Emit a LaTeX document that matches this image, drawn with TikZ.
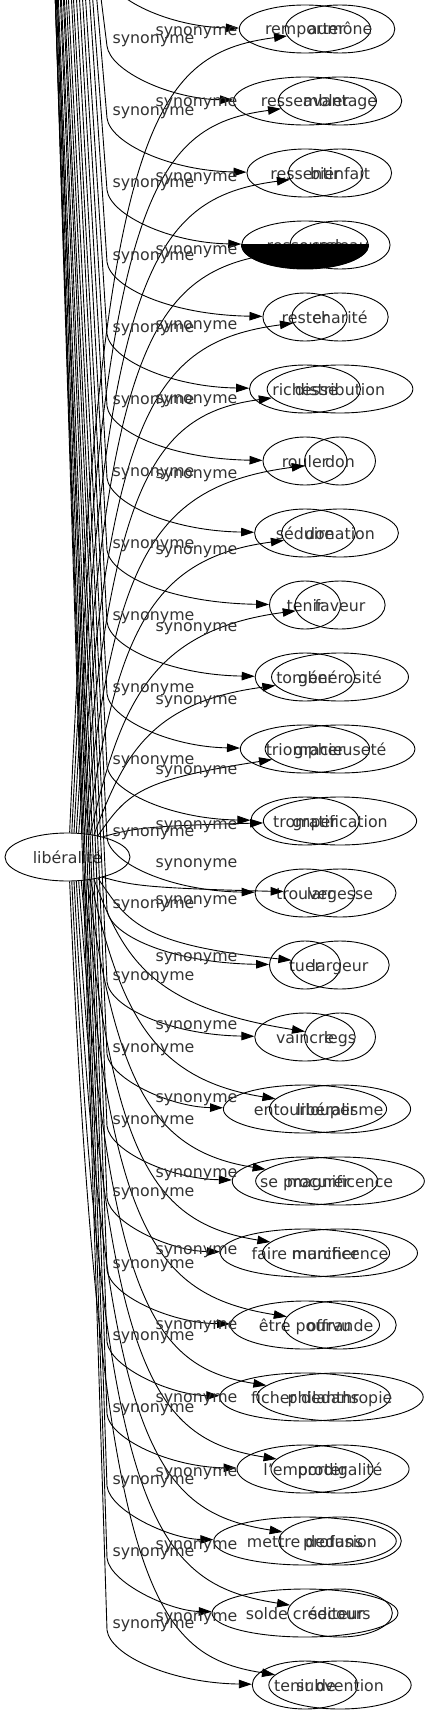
\documentclass[tikz,border=0pt]{standalone}
\usepackage{fontspec}
\setmainfont{DejaVu Sans}
\usepackage{tikz}
\usetikzlibrary{arrows.meta,shapes.geometric}

\begin{document}
\begin{tikzpicture}[x=1pt,y=-1pt,
  synnode/.style={ellipse,draw=black,line width=0.9pt,inner xsep=6.5pt,inner ysep=0pt,minimum width=71pt,minimum height=48pt,text height=12pt,text depth=0pt,text=black!80,font=\fontsize{15.8}{19}\selectfont},
  synlbl/.style={inner sep=0pt,anchor=base,text=black!80,font=\fontsize{15.8}{19}\selectfont},
  synarr/.style={draw=black,line width=0.9pt,-{Triangle[length=13pt,width=8.5pt]}}]
\path[use as bounding box] (0,0) rectangle (428,1715);
\path[fill=white,draw=none] (0,0) rectangle (428,1715);
% centre
\node[synnode,minimum width=125pt] (liberalite) at (67.5,857) {libéralité};
% left column of words
\node[synnode] (remporter) at (305,29) {remporter};
\node[synnode] (ressembler) at (305,101) {ressembler};
\node[synnode] (ressentir) at (305,173) {ressentir};
\node[synnode] (ressource) at (305,245) {ressource};
\node[synnode] (rester) at (305,317) {rester};
\node[synnode] (richesse) at (305,389) {richesse};
\node[synnode] (rouler) at (305,461) {rouler};
\node[synnode] (seduire) at (305,533) {séduire};
\node[synnode] (tenir) at (305,605) {tenir};
\node[synnode] (tomber) at (305,677) {tomber};
\node[synnode] (triompher) at (305,749) {triompher};
\node[synnode] (tromper) at (305,821) {tromper};
\node[synnode] (trouver) at (305,893) {trouver};
\node[synnode] (tuer) at (305,965) {tuer};
\node[synnode] (vaincre) at (305,1037) {vaincre};
\node[synnode] (entourlouper) at (305,1109) {entourlouper};
\node[synnode] (seprocurer) at (305,1181) {se procurer};
\node[synnode] (fairemarcher) at (305,1253) {faire marcher};
\node[synnode] (etrepourvu) at (305,1325) {être pourvu};
\node[synnode] (ficherdedans) at (305,1397) {ficher dedans};
\node[synnode] (lemporter) at (305,1469) {l'emporter};
\node[synnode] (mettrededans) at (305,1541) {mettre dedans};
\node[synnode] (soldecrediteur) at (305,1613) {solde créditeur};
\node[synnode] (tenirde) at (305,1685) {tenir de};
% right column of words
\node[synnode] (aumone) at (340,29) {aumône};
\node[synnode] (avantage) at (340,101) {avantage};
\node[synnode] (bienfait) at (340,173) {bienfait};
\node[synnode] (cadeau) at (340,245) {cadeau};
\node[synnode] (charite) at (340,317) {charité};
\node[synnode] (distribution) at (340,389) {distribution};
\node[synnode] (don) at (340,461) {don};
\node[synnode] (donation) at (340,533) {donation};
\node[synnode] (faveur) at (340,605) {faveur};
\node[synnode] (generosite) at (340,677) {générosité};
\node[synnode] (gracieusete) at (340,749) {gracieuseté};
\node[synnode] (gratification) at (340,821) {gratification};
\node[synnode] (largesse) at (340,893) {largesse};
\node[synnode] (largeur) at (340,965) {largeur};
\node[synnode] (legs) at (340,1037) {legs};
\node[synnode] (liberalisme) at (340,1109) {libéralisme};
\node[synnode] (magnificence) at (340,1181) {magnificence};
\node[synnode] (munificence) at (340,1253) {munificence};
\node[synnode] (offrande) at (340,1325) {offrande};
\node[synnode] (philanthropie) at (340,1397) {philanthropie};
\node[synnode] (prodigalite) at (340,1469) {prodigalité};
\node[synnode] (profusion) at (340,1541) {profusion};
\node[synnode] (secours) at (340,1613) {secours};
\node[synnode] (subvention) at (340,1685) {subvention};
% edges coming in from above the frame
\coordinate (bt-1) at (104,-80);
\coordinate (bt-2) at (100,-10);
\coordinate (bt-3) at (96,-10);
\coordinate (bt-4) at (92,-10);
\coordinate (bt-5) at (89,-10);
\coordinate (bt-6) at (85,-10);
\coordinate (bt-7) at (82,-10);
\coordinate (bt-8) at (79,-10);
\coordinate (bt-9) at (76,-10);
\coordinate (bt-10) at (73,-10);
\coordinate (bt-11) at (71,-10);
\coordinate (bt-12) at (68,-10);
\coordinate (bt-13) at (66,-10);
\coordinate (bt-14) at (64,-10);
\coordinate (bt-15) at (63,-10);
\coordinate (bt-16) at (61,-10);
\coordinate (bt-17) at (60,-10);
\coordinate (bt-18) at (58,-10);
\coordinate (bt-19) at (57,-10);
\coordinate (bt-20) at (57,-10);
\coordinate (bt-21) at (56,-10);
\coordinate (bt-22) at (55,-10);
\coordinate (bt-23) at (55,-10);
\coordinate (bt-24) at (55,-10);
\draw[synarr] (bt-1) -- (107,-26) .. controls (110,-1) and (170,27) .. (remporter);
\draw[synarr] (bt-2) -- (107,46) .. controls (110,71) and (170,99) .. (ressembler);
\draw[synarr] (bt-3) -- (107,118) .. controls (110,143) and (170,171) .. (ressentir);
\draw[synarr] (bt-4) -- (107,190) .. controls (110,215) and (170,243) .. (ressource);
\draw[synarr] (bt-5) -- (107,262) .. controls (110,287) and (170,315) .. (rester);
\draw[synarr] (bt-6) -- (107,334) .. controls (110,359) and (170,387) .. (richesse);
\draw[synarr] (bt-7) -- (107,406) .. controls (110,431) and (170,459) .. (rouler);
\draw[synarr] (bt-8) -- (107,478) .. controls (110,503) and (170,531) .. (seduire);
\draw[synarr] (bt-9) -- (107,550) .. controls (110,575) and (170,603) .. (tenir);
\draw[synarr] (bt-10) -- (107,622) .. controls (110,647) and (170,675) .. (tomber);
\draw[synarr] (bt-11) -- (107,694) .. controls (110,719) and (170,747) .. (triompher);
\draw[synarr] (bt-12) -- (107,766) .. controls (110,791) and (170,819) .. (tromper);
\draw[synarr] (bt-13) -- (107,838) .. controls (110,863) and (170,891) .. (trouver);
\draw[synarr] (bt-14) -- (107,910) .. controls (110,935) and (170,963) .. (tuer);
\draw[synarr] (bt-15) -- (107,982) .. controls (110,1007) and (170,1035) .. (vaincre);
\draw[synarr] (bt-16) -- (107,1054) .. controls (110,1079) and (170,1107) .. (entourlouper);
\draw[synarr] (bt-17) -- (107,1126) .. controls (110,1151) and (170,1179) .. (seprocurer);
\draw[synarr] (bt-18) -- (107,1198) .. controls (110,1223) and (170,1251) .. (fairemarcher);
\draw[synarr] (bt-19) -- (107,1270) .. controls (110,1295) and (170,1323) .. (etrepourvu);
\draw[synarr] (bt-20) -- (107,1342) .. controls (110,1367) and (170,1395) .. (ficherdedans);
\draw[synarr] (bt-21) -- (107,1414) .. controls (110,1439) and (170,1467) .. (lemporter);
\draw[synarr] (bt-22) -- (107,1486) .. controls (110,1511) and (170,1539) .. (mettrededans);
\draw[synarr] (bt-23) -- (107,1558) .. controls (110,1583) and (170,1611) .. (soldecrediteur);
\draw[synarr] (bt-24) -- (107,1630) .. controls (110,1655) and (170,1683) .. (tenirde);
% edges from libéralité
\draw[synarr] (liberalite.85) .. controls (100,129) and (150,54) .. (aumone);
\draw[synarr] (liberalite.80) .. controls (102,201) and (150,126) .. (avantage);
\draw[synarr] (liberalite.75) .. controls (104,273) and (150,198) .. (bienfait);
\draw[synarr] (liberalite.70) .. controls (106,345) and (150,270) .. (cadeau);
\draw[synarr] (liberalite.65) .. controls (108.5,417) and (150,342) .. (charite);
\draw[synarr] (liberalite.60) .. controls (111,489) and (150,414) .. (distribution);
\draw[synarr] (liberalite.55) .. controls (114,561) and (150,486) .. (don);
\draw[synarr] (liberalite.50) .. controls (117,633) and (150,558) .. (donation);
\draw[synarr] (liberalite.45) .. controls (120,705) and (150,630) .. (faveur);
\draw[synarr] (liberalite.40) .. controls (123.5,756) and (150,702) .. (generosite);
\draw[synarr] (liberalite.35) .. controls (127.6,792.5) and (140,780) .. (gracieusete);
\draw[synarr] (liberalite.30) .. controls (132,829) and (140,826) .. (gratification);
\draw[synarr] (liberalite.-30) .. controls (132,885) and (140,888) .. (largesse);
\draw[synarr] (liberalite.-35) .. controls (127.6,921.5) and (140,945) .. (largeur);
\draw[synarr] (liberalite.-40) .. controls (123.5,958) and (150,1007) .. (legs);
\draw[synarr] (liberalite.-45) .. controls (120,1009) and (150,1079) .. (liberalisme);
\draw[synarr] (liberalite.-50) .. controls (116.7,1081) and (150,1151) .. (magnificence);
\draw[synarr] (liberalite.-55) .. controls (113.7,1153) and (150,1223) .. (munificence);
\draw[synarr] (liberalite.-60) .. controls (111,1225) and (150,1295) .. (offrande);
\draw[synarr] (liberalite.-65) .. controls (108.5,1297) and (150,1367) .. (philanthropie);
\draw[synarr] (liberalite.-70) .. controls (106.2,1369) and (150,1439) .. (prodigalite);
\draw[synarr] (liberalite.-75) .. controls (104,1441) and (150,1511) .. (profusion);
\draw[synarr] (liberalite.-80) .. controls (101.7,1513) and (150,1583) .. (secours);
\draw[synarr] (liberalite.-85) .. controls (99.6,1585) and (150,1655) .. (subvention);
% edge labels
\node[synlbl] (lb-2) at (153.5,44) {synonyme};
\node[synlbl] (lb-3) at (153.5,116) {synonyme};
\node[synlbl] (lb-4) at (153.5,188) {synonyme};
\node[synlbl] (lb-5) at (153.5,260) {synonyme};
\node[synlbl] (lb-6) at (153.5,332) {synonyme};
\node[synlbl] (lb-7) at (153.5,404) {synonyme};
\node[synlbl] (lb-8) at (153.5,476) {synonyme};
\node[synlbl] (lb-9) at (153.5,548) {synonyme};
\node[synlbl] (lb-10) at (153.5,620) {synonyme};
\node[synlbl] (lb-11) at (153.5,692) {synonyme};
\node[synlbl] (lb-12) at (153.5,764) {synonyme};
\node[synlbl] (lb-13) at (153.5,836) {synonyme};
\node[synlbl] (lb-14) at (153.5,908) {synonyme};
\node[synlbl] (lb-15) at (153.5,980) {synonyme};
\node[synlbl] (lb-16) at (153.5,1052) {synonyme};
\node[synlbl] (lb-17) at (153.5,1124) {synonyme};
\node[synlbl] (lb-18) at (153.5,1196) {synonyme};
\node[synlbl] (lb-19) at (153.5,1268) {synonyme};
\node[synlbl] (lb-20) at (153.5,1340) {synonyme};
\node[synlbl] (lb-21) at (153.5,1412) {synonyme};
\node[synlbl] (lb-22) at (153.5,1484) {synonyme};
\node[synlbl] (lb-23) at (153.5,1556) {synonyme};
\node[synlbl] (lb-24) at (153.5,1628) {synonyme};
\node[synlbl] (la-1) at (196.5,36) {synonyme};
\node[synlbl] (la-2) at (196.5,107) {synonyme};
\node[synlbl] (la-3) at (196.5,182) {synonyme};
\node[synlbl] (la-4) at (196.5,254) {synonyme};
\node[synlbl] (la-5) at (196.5,329) {synonyme};
\node[synlbl] (la-6) at (196.5,403) {synonyme};
\node[synlbl] (la-7) at (196.5,478) {synonyme};
\node[synlbl] (la-8) at (196.5,554) {synonyme};
\node[synlbl] (la-9) at (196.5,631) {synonyme};
\node[synlbl] (la-10) at (196.5,704) {synonyme};
\node[synlbl] (la-11) at (196.5,774) {synonyme};
\node[synlbl] (la-12) at (196.5,829) {synonyme};
\node[synlbl] (la-13) at (196.5,867) {synonyme};
\node[synlbl] (la-14) at (196.5,904) {synonyme};
\node[synlbl] (la-15) at (196.5,961) {synonyme};
\node[synlbl] (la-16) at (196.5,1029) {synonyme};
\node[synlbl] (la-17) at (196.5,1102) {synonyme};
\node[synlbl] (la-18) at (196.5,1177) {synonyme};
\node[synlbl] (la-19) at (196.5,1254) {synonyme};
\node[synlbl] (la-20) at (196.5,1329) {synonyme};
\node[synlbl] (la-21) at (196.5,1402) {synonyme};
\node[synlbl] (la-22) at (196.5,1476) {synonyme};
\node[synlbl] (la-23) at (196.5,1549) {synonyme};
\node[synlbl] (la-24) at (196.5,1621) {synonyme};
% blackened lower half
\begin{scope}
\clip (200,244) rectangle (420,280);
\fill[black] (ressource.center) ellipse [x radius=64, y radius=24];
\end{scope}
\end{tikzpicture}
\end{document}
